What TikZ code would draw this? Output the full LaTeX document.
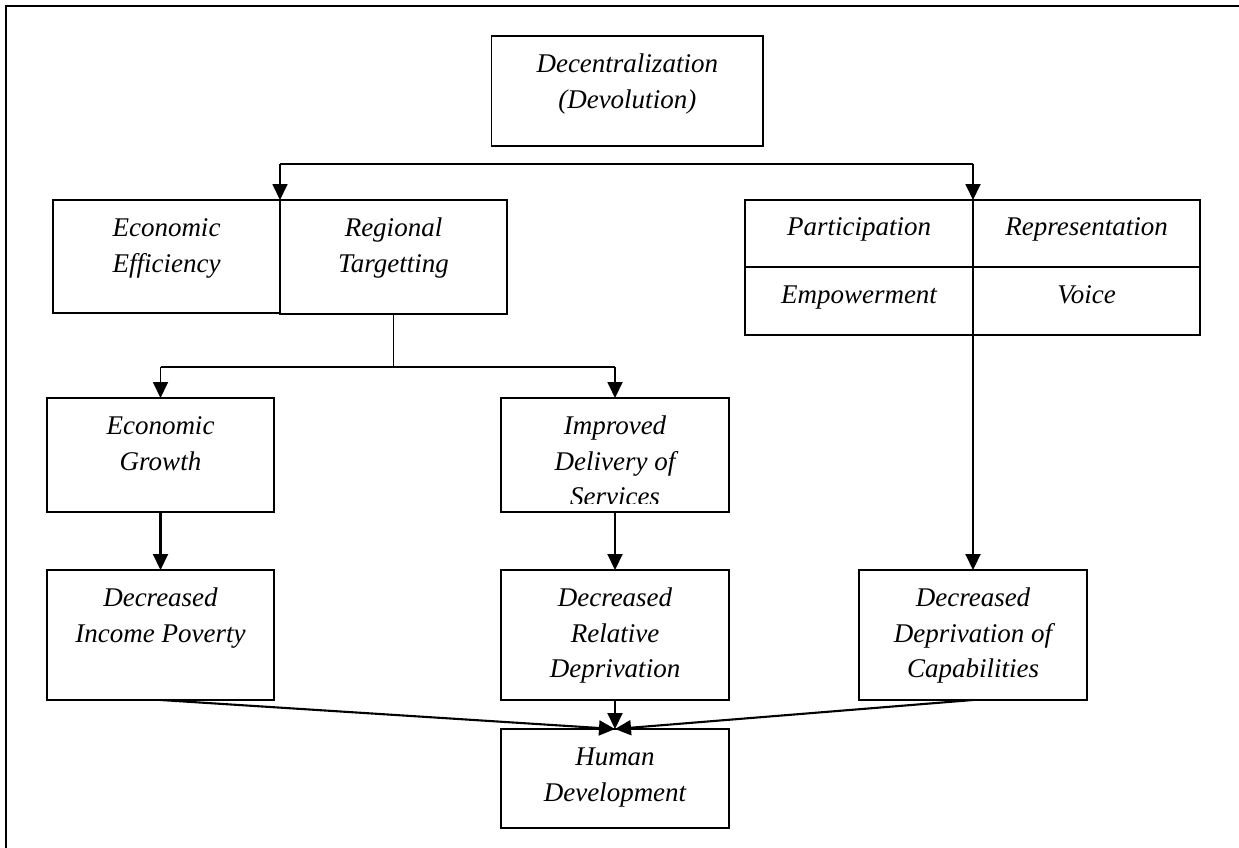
\documentclass[tikz,border=0pt]{standalone}
\usepackage{fontspec}
\setmainfont{Liberation Serif}
\usetikzlibrary{arrows.meta,calc}
\newcommand{\bxt}[3]{\parbox[c][#2pt][t]{#1pt}{\centering\rule{0pt}{36.5pt}#3}}
\begin{document}
\begin{tikzpicture}[x=1pt,y=-1pt,
  font=\fontsize{27}{35.7}\selectfont\itshape,
  box/.style={draw, line width=1.9pt, inner sep=0pt, outer sep=0pt, anchor=north west},
  thinline/.style={line width=1.5pt},
  arrthin/.style={line width=1.8pt, -{Triangle[length=16pt,width=15pt]}},
  arrthick/.style={line width=2.1pt, -{Triangle[length=16pt,width=15pt]}},
  frame/.style={line width=1.8pt}]
\useasboundingbox (0,0) rectangle (1239,848);
\draw[frame] (6,848) -- (6,6) -- (1239,6);

% boxes
\node[box] (dec) at (491.5,36) {\bxt{271.5}{110}{Decentralization\\(Devolution)}};
\node[box] (ee) at (53,200) {\bxt{227}{113}{Economic\\Efficiency}};
\node[box] (rt) at (280,200) {\bxt{227}{114}{Regional\\Targetting}};
\node[box] (part) at (745,200) {\parbox[c][67pt][t]{228pt}{\centering\rule{0pt}{35pt}Participation}};
\node[box] (rep) at (973,200) {\parbox[c][67pt][t]{227pt}{\centering\rule{0pt}{35pt}Representation}};
\node[box] (emp) at (745,267) {\parbox[c][68pt][t]{228pt}{\centering\rule{0pt}{36pt}Empowerment}};
\node[box] (voice) at (973,267) {\parbox[c][68pt][t]{227pt}{\centering\rule{0pt}{36pt}Voice}};
\node[box] (eg) at (47,398) {\bxt{227}{114}{Economic\\Growth}};
\node[box] (ids) at (501,398) {\bxt{228}{114}{Improved\\Delivery of}};
\begin{scope}
  \clip ($(ids.north west)+(2,2)$) rectangle (729,503);
  \node[anchor=base, inner sep=0pt] (svc) at ($(ids.north)+(0,107.9)$) {Services};
\end{scope}
\node[box] (dip) at (47,570) {\bxt{227}{130}{Decreased\\Income Poverty}};
\node[box] (drd) at (501,570) {\bxt{228}{130}{Decreased\\Relative\\Deprivation}};
\node[box] (ddc) at (859,570) {\bxt{228}{130}{Decreased\\Deprivation of\\Capabilities}};
\node[box] (hd) at (501,729) {\bxt{228}{99}{Human\\Development}};

% connectors top
\coordinate (hl) at (280,164);
\coordinate (hr) at (973,164);
\draw[thinline] (hl) -- (hr);
\draw[arrthin] (hl) -- (ee.north east);
\draw[arrthin] (hr) -- (part.north east);

% from regional targetting
\coordinate (mid) at (rt.south |- 0,367);
\coordinate (gl) at (eg.north |- 0,367);
\coordinate (gr) at (ids.north |- 0,367);
\draw[thinline] (rt.south) -- (mid);
\draw[thinline] (gl) -- (gr);
\draw[arrthin] (gl) -- (eg.north);
\draw[arrthin] (gr) -- (ids.north);

% lower arrows
\draw[arrthick] (eg.south) -- (dip.north);
\draw[arrthick] (ids.south) -- (drd.north);
\draw[arrthick] (emp.south east) -- (ddc.north);
\draw[arrthick] (drd.south) -- (hd.north);
\draw[arrthick] (dip.south) -- (hd.north);
\draw[arrthick] (ddc.south) -- (hd.north);
\end{tikzpicture}
\end{document}
